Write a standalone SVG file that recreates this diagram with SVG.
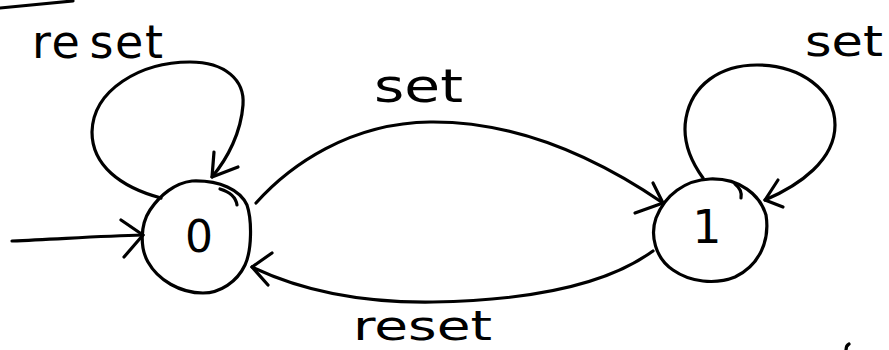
<svg xmlns="http://www.w3.org/2000/svg" width="889" height="350" viewBox="0 0 889 350">
<style>
.s{fill:none;stroke:#000;stroke-width:3.2;stroke-linecap:round;stroke-linejoin:round}
.t{font-family:"DejaVu Sans","Noto Sans",sans-serif;fill:#000}
</style>
<rect width="889" height="350" fill="#fff"/>
<path class="s" d="M0,8 L73,1"/>
<path class="s" d="M846,350 C846,347 847,345 849,344"/>
<g id="node-0">
<path class="s" d="M192,181 C220,180 240,190 247,205 C252,220 252,250 245,265 C237,282 220,293 203,293 C180,293 158,280 148,262 C140,248 140,225 150,210 C160,195 175,183 192,181 Z"/>
<path class="s" d="M220,189 C230,192 236,198 237,205"/>
<text class="t" x="199" y="252" font-size="44" text-anchor="middle">0</text>
</g>
<g id="node-1">
<path class="s" d="M710,179 C740,178 760,195 766,215 C770,240 760,265 735,277 C715,285 690,282 673,270 C655,258 650,235 656,218 C665,195 685,180 710,179 Z"/>
<path class="s" d="M735,184 C740,188 742,193 741,198"/>
<text class="t" x="707" y="243" font-size="46" text-anchor="middle">1</text>
</g>
<g id="connectors">
<path class="s" d="M12,241 C60,239 100,236 143,235"/>
<path class="s" d="M121,220 L143,235 L124,257"/>
<path class="s" d="M161,198 C120,187 92,165 92,132 C93,90 140,62 190,62 C225,62 245,80 243,105 C241,132 228,158 212,177"/>
<path class="s" d="M214,152 L212,177 L238,167"/>
<path class="s" d="M256,203 C290,165 350,123 430,122 C520,121 600,160 663,203"/>
<path class="s" d="M653,183 L663,203 L635,213"/>
<path class="s" d="M653,251 C620,275 560,300 433,302 C360,303 300,290 252,267"/>
<path class="s" d="M272,253 L252,267 L268,285"/>
<path class="s" d="M703,178 C690,160 682,140 686,118 C692,85 720,65 757,65 C800,65 835,90 835,125 C835,160 800,185 765,200"/>
<path class="s" d="M778,180 L765,200 L783,207"/>
</g>
<g id="labels">
<text class="t" x="32" y="58" font-size="46" textLength="131" lengthAdjust="spacing">re<tspan dx="8">set</tspan></text>
<text class="t" x="374" y="102" font-size="46" textLength="89" lengthAdjust="spacingAndGlyphs">set</text>
<text class="t" x="805" y="56" font-size="42" textLength="78" lengthAdjust="spacingAndGlyphs">set</text>
<text class="t" x="353" y="340" font-size="40" textLength="139" lengthAdjust="spacingAndGlyphs">reset</text>
</g>
</svg>
